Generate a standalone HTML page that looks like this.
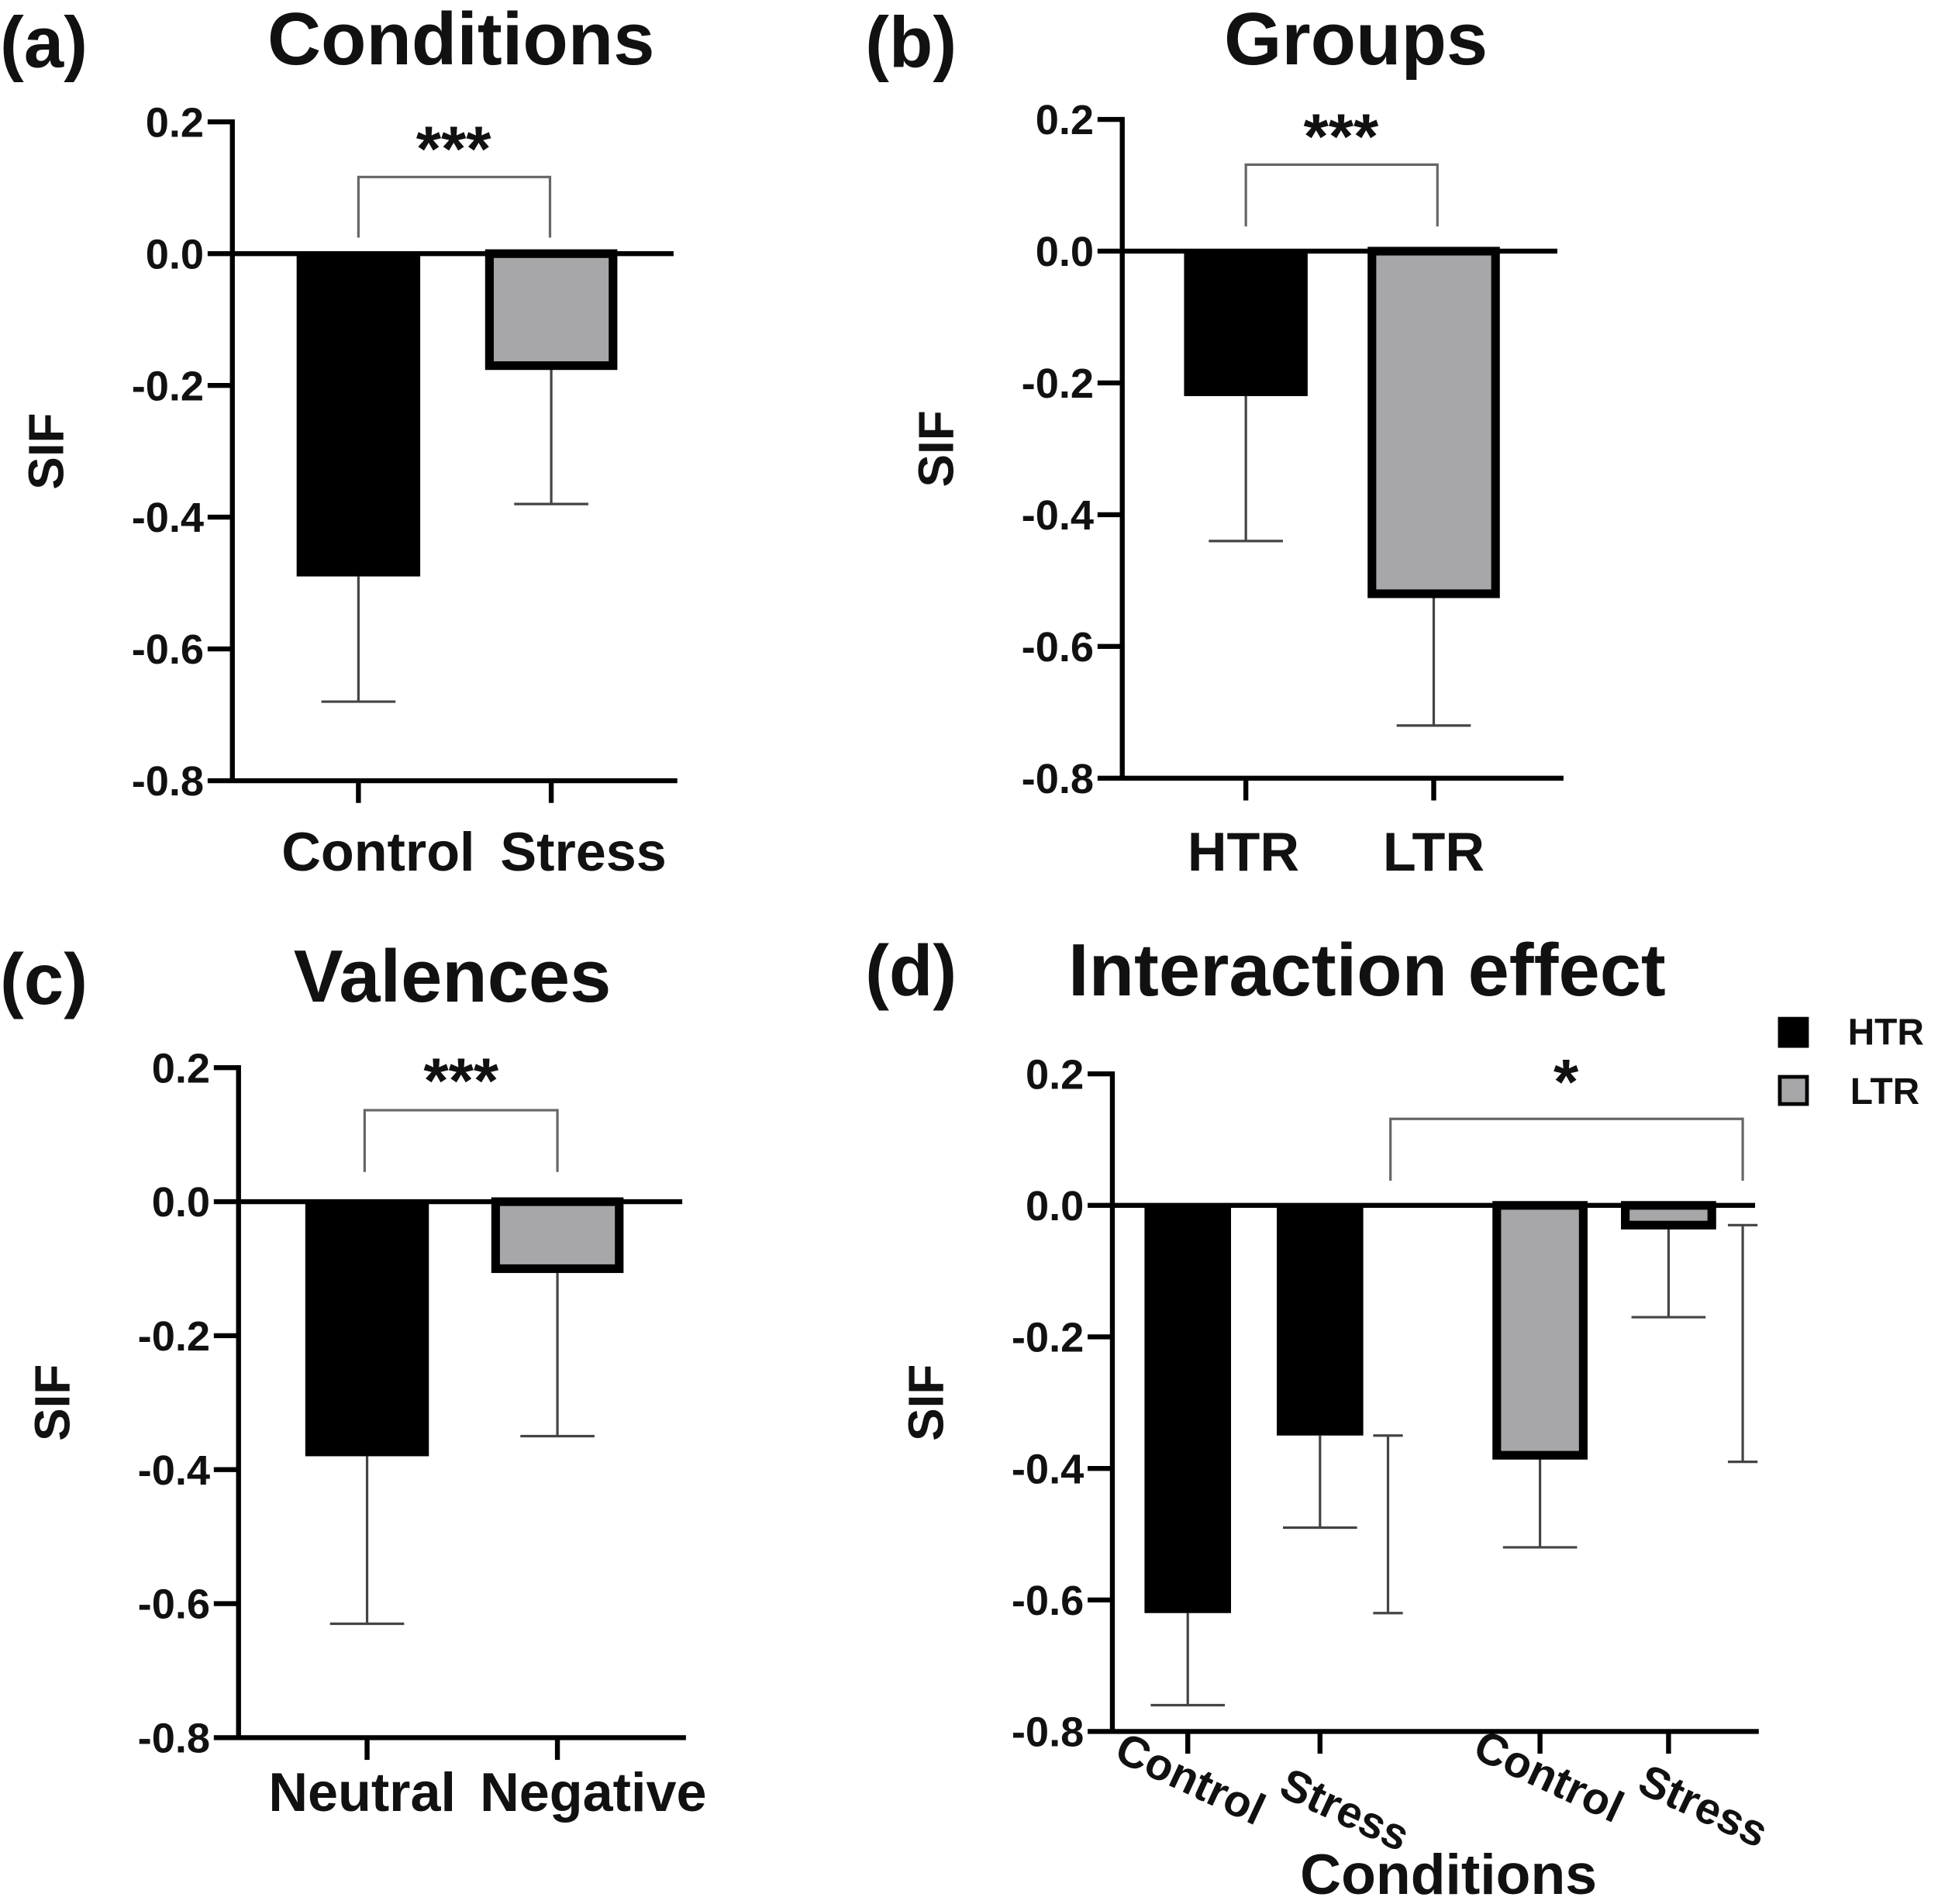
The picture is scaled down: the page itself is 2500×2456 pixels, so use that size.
<!DOCTYPE html>
<html><head><meta charset="utf-8"><style>
html,body{margin:0;padding:0;background:#fff}
svg{display:block}
text{font-family:"Liberation Sans",Arial,sans-serif;font-weight:bold;fill:#111}
</style></head><body>
<svg id="fig" width="2500" height="2456" viewBox="0 0 1568 1540" xmlns="http://www.w3.org/2000/svg"></svg>
<script>
// Panel data
const aCats=["Control","Stress"], aVals=[-0.49,-0.17], aErr=[0.19,0.21];
const bCats=["HTR","LTR"], bVals=[-0.22,-0.52], bErr=[0.22,0.20];
const cCats=["Neutral","Negative"], cVals=[-0.38,-0.10], cErr=[0.25,0.25];
const dCats=["Control","Stress","Control","Stress"], dVals=[-0.62,-0.35,-0.38,-0.03], dErr=[0.14,0.14,0.14,0.14];
const dExtraLo=[-0.35,-0.03], dExtraHi=[-0.62,-0.39];
const yTicks=[0.2,0.0,-0.2,-0.4,-0.6,-0.8];
const yTickLabels=["0.2","0.0","-0.2","-0.4","-0.6","-0.8"];

const svg=document.getElementById('fig');
const NS="http://www.w3.org/2000/svg";
function mk(tag,attrs,name,parent){const e=document.createElementNS(NS,tag);for(const k in attrs)e.setAttribute(k,attrs[k]);


(parent||svg).appendChild(e);return e;}
function txt(x,y,s,size,name,anchor,extra){const t=mk('text',Object.assign({x:x,y:y,'font-size':size,'text-anchor':anchor||'middle'},extra||{}),name);t.textContent=s;return t;}

function panel(o){
  const y=v=>o.y0-v*o.unit;
  const g=o.prefix;
  txt(o.lx,o.ly,o.label,58,g+'-panel-label','start');
  txt(o.tx,o.ty,o.title,60,g+'-title');
  txt(0,0,'SIF',40,g+'-y-axis-title','middle',{transform:`translate(${o.ax-137},${(y(0.2)+y(-0.8))/2}) rotate(-90)`});
  mk('line',{x1:o.ax,y1:y(0.2)-2,x2:o.ax,y2:y(-0.8)+1.5,stroke:'#000','stroke-width':4},g+'-y-axis');
  yTicks.forEach((v,i)=>{
    mk('line',{x1:o.ax-20,y1:y(v),x2:o.ax,y2:y(v),stroke:'#000','stroke-width':4},g+'-y-tick');
    txt(o.ax-23,y(v)+12,yTickLabels[i],34,g+'-y-tick-label','end');
  });
  mk('line',{x1:o.ax,y1:y(-0.8),x2:o.axEnd,y2:y(-0.8),stroke:'#000','stroke-width':4},g+'-x-axis');
  o.vals.forEach((v,i)=>{
    const cx=o.xs[i], gray=o.gray[i];
    mk('line',{x1:cx,y1:y(v),x2:cx,y2:y(v-o.err[i]),stroke:'#444','stroke-width':2},g+'-error-bar');
    mk('line',{x1:cx-30,y1:y(v-o.err[i]),x2:cx+30,y2:y(v-o.err[i]),stroke:'#444','stroke-width':2},g+'-error-cap');
    mk('rect',{x:cx-o.bw/2,y:y(0),width:o.bw,height:y(v)-y(0),fill:gray?'#a7a7a9':'#000',stroke:'#000','stroke-width':gray?7:0},g+'-bar-'+i);
    mk('line',{x1:cx,y1:y(-0.8),x2:cx,y2:y(-0.8)+18,stroke:'#000','stroke-width':4},g+'-x-tick');
  });
  mk('line',{x1:o.ax,y1:y(0),x2:o.zeroEnd,y2:y(0),stroke:'#000','stroke-width':4},g+'-zero-line');
  return y;
}

// (a)
let ya=panel({prefix:'a',label:'(a)',lx:0,ly:54,title:'Conditions',tx:373,ty:52,ax:188,y0:205,unit:533,axEnd:548,zeroEnd:545,
 vals:aVals,err:aErr,xs:[290,446],gray:[0,1],bw:100});
txt(306,704,aCats[0],44,'a-x-label-control');txt(472,704,aCats[1],44,'a-x-label-stress');
mk('path',{d:`M290,192 V143 H445 V192`,fill:'none',stroke:'#666','stroke-width':2},'a-significance-bracket');
txt(367,138,'***',52,'a-significance-stars');

// (b)
let yb=panel({prefix:'b',label:'(b)',lx:700,ly:54,title:'Groups',tx:1097,ty:52,ax:908,y0:203,unit:533,axEnd:1265,zeroEnd:1260,
 vals:bVals,err:bErr,xs:[1008,1160],gray:[0,1],bw:100});
txt(1006,704,bCats[0],44,'b-x-label-htr');txt(1160,704,bCats[1],44,'b-x-label-ltr');
mk('path',{d:`M1008,183 V133 H1163 V183`,fill:'none',stroke:'#666','stroke-width':2},'b-significance-bracket');
txt(1085,128,'***',52,'b-significance-stars');

// (c)
let yc=panel({prefix:'c',label:'(c)',lx:0,ly:812,title:'Valences',tx:366,ty:810,ax:193,y0:972,unit:542,axEnd:555,zeroEnd:552,
 vals:cVals,err:cErr,xs:[297,451],gray:[0,1],bw:100});
txt(293,1465,cCats[0],44,'c-x-label-neutral');txt(480,1465,cCats[1],44,'c-x-label-negative');
mk('path',{d:`M295,948 V898 H451 V948`,fill:'none',stroke:'#666','stroke-width':2},'c-significance-bracket');
txt(373,892,'***',52,'c-significance-stars');

// (d)
let yd=panel({prefix:'d',label:'(d)',lx:700,ly:805,title:'Interaction effect',tx:1106,ty:805,ax:900,y0:975,unit:532,axEnd:1423,zeroEnd:1420,
 vals:dVals,err:dErr,xs:[961,1068,1246,1350],gray:[0,0,1,1],bw:70});
[[1123,0],[1410,1]].forEach(([x,i])=>{
  mk('line',{x1:x,y1:yd(dExtraLo[i]),x2:x,y2:yd(dExtraHi[i]),stroke:'#444','stroke-width':2},'d-extra-error-bar');
  mk('line',{x1:x-12,y1:yd(dExtraLo[i]),x2:x+12,y2:yd(dExtraLo[i]),stroke:'#444','stroke-width':2},'d-extra-error-cap');
  mk('line',{x1:x-12,y1:yd(dExtraHi[i]),x2:x+12,y2:yd(dExtraHi[i]),stroke:'#444','stroke-width':2},'d-extra-error-cap');
});
[[958,1450],[1083,1475],[1248,1448],[1373,1472]].forEach(([x,yy],i)=>{
  txt(0,0,dCats[i],36,'d-x-label-'+i,'middle',{transform:`translate(${x},${yy}) rotate(25)`});
});
txt(1172,1532,'Conditions',46,'d-x-axis-title');
mk('path',{d:`M1125,955 V905 H1410 V955`,fill:'none',stroke:'#666','stroke-width':2},'d-significance-bracket');
txt(1267,893,'*',52,'d-significance-star');
mk('rect',{x:1440,y:824,width:22,height:22,fill:'#000',stroke:'#000','stroke-width':3},'legend-swatch-htr');
txt(1495,845,'HTR',30,'legend-label-htr','start',{'font-weight':'normal'});
mk('rect',{x:1440,y:871,width:22,height:22,fill:'#a7a7a9',stroke:'#000','stroke-width':3},'legend-swatch-ltr');
txt(1497,893,'LTR',30,'legend-label-ltr','start',{'font-weight':'normal'});
</script>
</body></html>
